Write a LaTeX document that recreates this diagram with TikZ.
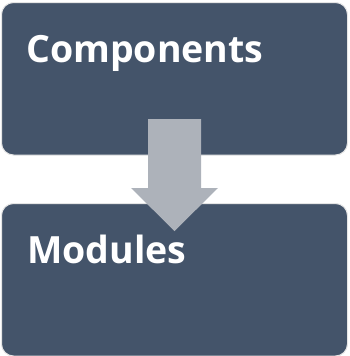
\documentclass[tikz,border=0pt]{standalone}
\usepackage{fontspec}
\setmainfont{Open Sans}
\definecolor{slate}{HTML}{44546A}
\definecolor{arrowgray}{HTML}{ADB2BA}
\tikzset{
    box/.style={draw=gray!20, line width=1pt, fill=slate, rounded corners=12pt,
        minimum width=346pt, minimum height=152.5pt, inner sep=0pt},
    lbl/.style={text=white, font=\bfseries\fontsize{37.5}{38}\selectfont, inner sep=0pt, anchor=base west}
}
\begin{document}
\begin{tikzpicture}[x=1pt,y=-1pt]

        \useasboundingbox (0,0) rectangle (349,356);

        % Cajas
        \node[box] (top) at (174.5,78.75) {};
        \node[box] (bottom) at (174.5,279.75) {};

        % Textos
        \node[lbl] (comp) at (26,62) {Components};
        \node[lbl] (mod) at (27,263) {Modules};

        % Flecha
        \fill[arrowgray] (148,119) -- (201,119) -- (201,188) -- (218,188)
            -- (174.5,231) -- (131,188) -- (148,188) -- cycle;

\end{tikzpicture}
\end{document}
